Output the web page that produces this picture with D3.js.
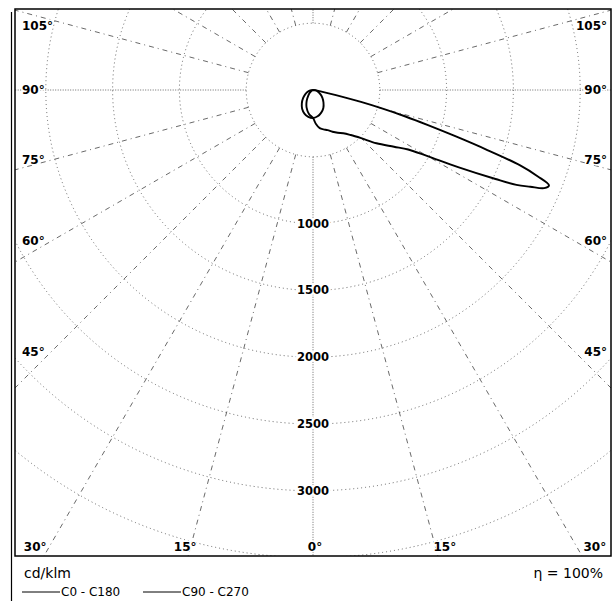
<!DOCTYPE html>
<html>
	<head>
		<meta charset="UTF-8">
		<title></title>
		<script src="https://d3js.org/d3.v7.min.js"></script>
		<style>
			body { margin: 0; background: #fff; }
			text { font-family: "DejaVu Sans", Verdana, sans-serif; fill: #000; }
		</style>
	</head>
	<body>
		<div id="svg"></div>
		<script>
      // intensity values in cd/klm, gamma in degrees (0 = straight down)
      const c0Gamma  = [0, 5, 10, 15, 20, 25, 30, 35, 40, 45, 50, 55, 58, 60, 62, 64, 65, 66, 67, 68, 69, 70, 71, 72, 73, 74, 75, 76, 77, 78, 80, 85, 90]
      const c0Values = [210, 255, 290, 305, 320, 345, 370, 395, 440, 510, 620, 740, 840, 990, 1230, 1520, 1680, 1780, 1880, 1905, 1800, 1650, 1380, 1120, 900, 720, 540, 370, 220, 120, 50, 15, 0]
      const c180Gamma  = [0, 10, 20, 30, 40, 50, 60, 70, 80, 90]
      const c180Values = [210, 180, 140, 95, 55, 30, 15, 5, 0, 0]
      const c90Gamma  = [0, 10, 20, 30, 40, 50, 60, 70, 80, 90]
      const c90Values  = [210, 200, 180, 155, 122, 92, 65, 42, 20, 0]
      const c270Values = [210, 204, 188, 163, 130, 98, 69, 45, 21, 0]

      const ringValues = [500, 1000, 1500, 2000, 2500, 3000, 3500]
      const ringLabels = [1000, 1500, 2000, 2500, 3000]
      const spokeAngles = [0, 15, 30, 45, 60, 75, 90, 105, 120, 135, 150, 165, 180]
      const angleLabels = [0, 15, 30, 45, 60, 75, 90, 105]
      const seriesNames = ['C0 - C180', 'C90 - C270']

      const W = 613, H = 601
      const cx = 313, cy = 90
      const frame = {x0: 15, y0: 9, x1: 611, y1: 556}

      const svg = d3.select('#svg').append('svg').attr('width', W).attr('height', H)

      const r = d3.scaleLinear().domain([0, 500]).range([0, 66.8])
      const rad = d => d * Math.PI / 180

      svg.append('clipPath').attr('id', 'clip').append('rect')
        .attr('x', frame.x0).attr('y', frame.y0)
        .attr('width', frame.x1 - frame.x0).attr('height', frame.y1 - frame.y0)

      const grid = svg.append('g').attr('clip-path', 'url(#clip)')

      // rings
      grid.selectAll('circle').data(ringValues).enter().append('circle')
        .attr('cx', cx).attr('cy', cy).attr('r', d => r(d))
        .attr('fill', 'none').attr('stroke', '#444').attr('stroke-width', 0.8)
        .attr('stroke-dasharray', '1,3')

      // spokes on both sides, starting at the first ring
      const spokes = []
      spokeAngles.forEach(a => { spokes.push(a); if (a > 0 && a < 180) spokes.push(-a) })
      grid.selectAll('line.spoke').data(spokes).enter().append('line')
        .attr('class', 'spoke')
        .attr('x1', d => cx + r(500) * Math.sin(rad(d)))
        .attr('y1', d => cy + r(500) * Math.cos(rad(d)))
        .attr('x2', d => cx + 800 * Math.sin(rad(d)))
        .attr('y2', d => cy + 800 * Math.cos(rad(d)))
        .attr('stroke', '#444').attr('stroke-width', 0.8)
        .attr('stroke-dasharray', d => (Math.abs(d) % 90 === 0) ? '1,1.5' : '5,4,1,4')

      // value labels on the 0 degree spoke
      svg.selectAll('text.ring').data(ringLabels).enter().append('text')
        .attr('class', 'ring')
        .attr('x', cx).attr('y', d => cy + r(d))
        .attr('text-anchor', 'middle').attr('dominant-baseline', 'central')
        .attr('font-size', '11.5px').attr('font-weight', 'bold')
        .attr('stroke', '#fff').attr('stroke-width', 4).attr('paint-order', 'stroke')
        .text(d => d)

      // curves
      const pts = (gam, vals, side) => gam.map((g, i) => [side > 0 ? Math.PI - rad(g) : Math.PI + rad(g), r(vals[i])])
      const radial = d3.lineRadial().angle(d => d[0]).radius(d => d[1]).curve(d3.curveCatmullRom.alpha(0.5))

      const c0c180 = pts(c180Gamma, c180Values, -1).reverse().concat(pts(c0Gamma, c0Values, 1).slice(1))
      const c90c270 = pts(c90Gamma, c270Values, -1).reverse().concat(pts(c90Gamma, c90Values, 1).slice(1))

      svg.selectAll('path.curve').data([c0c180, c90c270]).enter().append('path')
        .attr('class', 'curve')
        .attr('transform', `translate(${cx},${cy})`)
        .attr('d', d => radial(d))
        .attr('fill', 'none').attr('stroke', '#000').attr('stroke-width', 1.9)
        .attr('stroke-linejoin', 'round')

      // frame
      svg.append('rect')
        .attr('x', frame.x0).attr('y', frame.y0)
        .attr('width', frame.x1 - frame.x0).attr('height', frame.y1 - frame.y0)
        .attr('fill', 'none').attr('stroke', '#000').attr('stroke-width', 1.5)
      svg.append('line').attr('x1', 11.5).attr('x2', 11.5).attr('y1', 12).attr('y2', 601)
        .attr('stroke', '#000').attr('stroke-width', 1.2)

      // angle labels, placed where each spoke meets the frame
      const angleLab = []
      angleLabels.forEach(a => {
        const sides = a === 0 ? [1] : [-1, 1]
        sides.forEach(s => {
          const dx = Math.sin(rad(a)) * s, dy = Math.cos(rad(a))
          const tBottom = dy > 0 ? (frame.y1 - cy) / dy : Infinity
          const tSide = dx !== 0 ? (s > 0 ? (frame.x1 - cx) / dx : (frame.x0 - cx) / dx) : Infinity
          if (tBottom < tSide) {
            const hx = cx + dx * tBottom
            angleLab.push({a, x: cx + (hx - cx) * 1.04 + 2, y: frame.y1 - 9, anchor: 'middle'})
          } else {
            const hy = cy + dy * tSide
            angleLab.push({a, x: s > 0 ? frame.x1 - 4 : frame.x0 + 7,
              y: Math.max(cy + (hy - cy) * 0.88, frame.y0 + 17), anchor: s > 0 ? 'end' : 'start'})
          }
        })
      })
      svg.selectAll('text.ang').data(angleLab).enter().append('text')
        .attr('class', 'ang')
        .attr('x', d => d.x).attr('y', d => d.y)
        .attr('text-anchor', d => d.anchor).attr('dominant-baseline', 'central')
        .attr('font-size', '12px').attr('font-weight', 'bold')
        .attr('stroke', '#fff').attr('stroke-width', 3).attr('paint-order', 'stroke')
        .text(d => d.a + '°')

      // unit, efficiency, legend
      svg.append('text').attr('x', 24).attr('y', 578).attr('font-size', '14px').text('cd/klm')
      svg.append('text').attr('x', 603).attr('y', 578).attr('text-anchor', 'end').attr('font-size', '14px').text('η = 100%')

      const legend = svg.selectAll('g.leg').data(seriesNames).enter().append('g')
        .attr('class', 'leg').attr('transform', (d, i) => `translate(${22 + i * 121},592)`)
      legend.append('line').attr('x1', 0).attr('x2', 38).attr('y1', 0).attr('y2', 0)
        .attr('stroke', '#000').attr('stroke-width', 1)
      legend.append('text').attr('x', 39).attr('y', 0).attr('dominant-baseline', 'central')
        .attr('font-size', '12px').text(d => d)
		</script>
	</body>
</html>
